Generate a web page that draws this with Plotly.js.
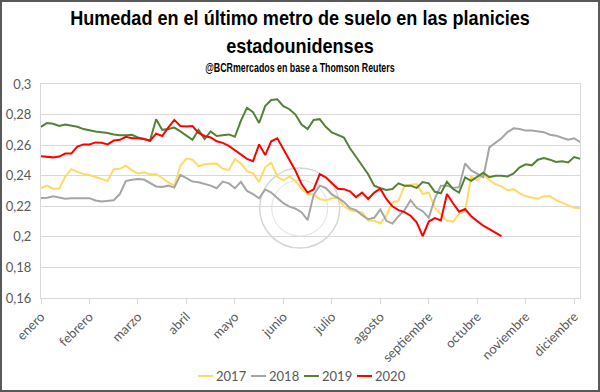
<!DOCTYPE html>
<html><head><meta charset="utf-8">
<script src="https://cdn.plot.ly/plotly-3.0.1.min.js"></script>
<style>
html,body{margin:0;padding:0;background:#fff;}
#wrap{width:600px;height:392px;box-sizing:border-box;border:2px solid #595959;background:#fff;overflow:hidden;}
#chart{width:596px;height:388px;}
</style></head><body>
<div id="wrap"><div id="chart"></div></div>
<script>
// Month labels and their positions (sample index, 8 samples per month)
const months = ["enero","febrero","marzo","abril","mayo","junio","julio","agosto","septiembre","octubre","noviembre","diciembre"];
const monthTickPos = [0,8,16,24,32,40,48,56,64,72,80,88];
const yTickVals = [0.16,0.18,0.2,0.22,0.24,0.26,0.28,0.3];
const yTickText = ["0,16","0,18","0,2","0,22","0,24","0,26","0,28","0,3"];
const years = ["2017","2018","2019","2020"];

const y2017 = [0.232,0.2335,0.2315,0.2315,0.2395,0.2443,0.2425,0.2412,0.2405,0.239,
  0.2375,0.2365,0.2443,0.2445,0.2465,0.2435,0.2415,0.2422,0.241,0.241,
  0.2385,0.2357,0.2335,0.2465,0.2512,0.2505,0.2462,0.2475,0.2478,0.248,
  0.2445,0.2438,0.251,0.248,0.243,0.2415,0.236,0.2455,0.2485,0.2395,
  0.237,0.2395,0.2365,0.2315,0.228,0.2275,0.2248,0.2238,0.2252,0.2255,
  0.22,0.2175,0.2165,0.216,0.2107,0.2105,0.2088,0.2139,0.2225,0.2235,
  0.2335,0.234,0.2345,0.228,0.229,0.219,0.2145,0.2105,0.21,0.2148,
  0.217,0.2395,0.237,0.241,0.237,0.2345,0.233,0.2305,0.2312,0.2285,
  0.2265,0.2255,0.225,0.2265,0.2265,0.224,0.2225,0.221,0.219,0.2188];

const y2018 = [0.2255,0.2256,0.2265,0.2255,0.225,0.2252,0.225,0.2252,0.2253,0.2238,
  0.2232,0.2238,0.224,0.228,0.2365,0.2374,0.2378,0.2375,0.2352,0.233,
  0.2327,0.2335,0.2322,0.2405,0.2385,0.2362,0.2357,0.2348,0.2335,0.2318,
  0.2362,0.235,0.2318,0.236,0.23,0.228,0.2252,0.231,0.229,0.2255,
  0.222,0.2198,0.2185,0.2161,0.211,0.2275,0.2335,0.232,0.2278,0.2255,
  0.2228,0.2188,0.2175,0.2142,0.2115,0.2125,0.218,0.2105,0.2087,0.2135,
  0.2175,0.224,0.219,0.2168,0.2125,0.225,0.2335,0.2335,0.232,0.2325,
  0.248,0.2435,0.2415,0.239,0.2585,0.2615,0.2645,0.2685,0.271,0.2705,
  0.2695,0.2695,0.2688,0.2685,0.2668,0.2662,0.2648,0.2635,0.2645,0.262];

const y2019 = [0.272,0.2745,0.274,0.2725,0.2735,0.2726,0.272,0.2705,0.2695,0.269,
  0.2685,0.268,0.267,0.2665,0.2665,0.2668,0.265,0.264,0.263,0.277,
  0.270,0.2705,0.2715,0.269,0.2665,0.2635,0.270,0.264,0.269,0.266,
  0.2665,0.267,0.2655,0.276,0.2845,0.2815,0.2745,0.2855,0.2895,0.29,
  0.2855,0.2835,0.280,0.2735,0.2705,0.2765,0.277,0.272,0.2683,0.2665,
  0.265,0.258,0.2522,0.247,0.241,0.2335,0.2318,0.2307,0.2313,0.235,
  0.2335,0.2335,0.232,0.2358,0.235,0.2295,0.2285,0.236,0.2313,0.229,
  0.2389,0.2367,0.2395,0.242,0.239,0.24,0.24,0.2395,0.2415,0.2455,
  0.2475,0.2468,0.2505,0.2515,0.2505,0.249,0.2495,0.2487,0.2522,0.251];

const y2020 = [0.2527,0.2525,0.252,0.2525,0.2545,0.2545,0.259,0.2605,0.2605,0.2618,
  0.2615,0.2605,0.263,0.2635,0.2655,0.2645,0.2645,0.264,0.2628,0.2675,
  0.266,0.2715,0.2765,0.2725,0.2722,0.2725,0.268,0.266,0.265,0.2625,
  0.2615,0.2595,0.2565,0.2535,0.251,0.2495,0.2605,0.2535,0.2625,0.2645,
  0.2574,0.2505,0.2432,0.2346,0.229,0.231,0.241,0.239,0.235,0.2315,
  0.2312,0.2298,0.226,0.229,0.2248,0.229,0.2315,0.2248,0.22,0.2175,
  0.2162,0.2138,0.2095,0.2005,0.21,0.2123,0.2107,0.228,0.222,0.2165,
  0.2182,0.2135,0.2103,0.2073,0.205,0.203,0.2005];

const seriesValues = [y2017, y2018, y2019, y2020];
const colors = ["#FFD966","#A5A5A5","#548235","#FF0000"];

const traces = seriesValues.map((vals, i) => ({
  type: "scatter",
  mode: "lines",
  name: years[i],
  x: vals.map((_, k) => k),
  y: vals,
  line: {color: colors[i], width: 2},
  hoverinfo: "skip"
}));

const axisGray = "#D9D9D9";
const textGray = "#595959";
const tickFont = {family: "Lato, 'Open Sans', sans-serif", size: 13, color: textGray};
const boldFont = "'Liberation Sans', Arial, sans-serif";

const layout = {
  width: 596, height: 388,
  margin: {l: 39, r: 18, t: 82, b: 92, pad: 0, autoexpand: false},
  paper_bgcolor: "#fff", plot_bgcolor: "#fff",
  showlegend: true,
  title: {
    text: "Humedad en el último metro de suelo en las planicies<br>estadounidenses",
    x: 0.5, xref: "container", xanchor: "center",
    y: 0.95, yref: "container", yanchor: "top",
    font: {family: boldFont, size: 21, color: "#000", weight: "bold"}
  },
  annotations: [{
    text: "@BCRmercados en base a Thomson Reuters",
    xref: "paper", yref: "paper", x: 0.4805, y: 1.077,
    xanchor: "center", yanchor: "middle", showarrow: false,
    font: {family: boldFont, size: 12, color: "#000", weight: "bold"}
  }],
  xaxis: {
    range: [0, 88.96],
    tickmode: "array", tickvals: monthTickPos, ticktext: months,
    tickangle: -45, tickfont: tickFont,
    ticks: "outside", ticklen: 5, tickcolor: axisGray, tickwidth: 1,
    showgrid: false, zeroline: false,
    showline: true, linecolor: axisGray, linewidth: 1, mirror: true,
    fixedrange: true
  },
  yaxis: {
    range: [0.16, 0.3],
    tickmode: "array", tickvals: yTickVals, ticktext: yTickText,
    tickfont: tickFont, ticks: "", ticklabelstandoff: 6,
    showgrid: true, gridcolor: axisGray, gridwidth: 1,
    zeroline: false, showline: true, linecolor: axisGray, linewidth: 1, mirror: true,
    fixedrange: true
  },
  legend: {
    orientation: "h", x: 0.2505, xanchor: "left",
    y: 0.036, yref: "container", yanchor: "middle",
    font: {family: "Lato, 'Open Sans', sans-serif", size: 13, color: textGray},
    itemwidth: 30, entrywidth: 8, entrywidthmode: "pixels",
    tracegroupgap: 0, bgcolor: "rgba(0,0,0,0)"
  },
  shapes: [
    {type: "circle", layer: "below", xref: "x", yref: "y", xsizemode: "pixel", ysizemode: "pixel",
     xanchor: 42.7, yanchor: 0.2188, x0: -40, x1: 40, y0: -40, y1: 40,
     line: {color: "#D6D6D6", width: 1.5}},
    {type: "circle", layer: "below", xref: "x", yref: "y", xsizemode: "pixel", ysizemode: "pixel",
     xanchor: 42.7, yanchor: 0.2188, x0: -28, x1: 28, y0: -28, y1: 28,
     line: {color: "#E0E0E0", width: 1}}
  ]
};

function squeeze(el, targetW, cx, cy) {
  const bb = el.getBBox();
  const s = targetW / bb.width;
  const ox = bb.x + bb.width / 2, oy = bb.y + bb.height / 2;
  const tx = (cx === null) ? ox : cx, ty = (cy === null) ? oy : cy;
  el.setAttribute("transform", `translate(${tx},${ty}) scale(${s},1) translate(${-ox},${-oy})`);
}

Plotly.newPlot("chart", traces, layout, {displayModeBar: false, staticPlot: true}).then(gd => {
  const t = gd.querySelector(".gtitle");
  if (t) squeeze(t, 460, 298, 29.5);
  const sub = gd.querySelector(".annotation-text");
  if (sub) squeeze(sub, 190, null, null);
  gd.querySelectorAll(".legend .legendlines path").forEach(p => p.setAttribute("d", "M22,0h15"));
  gd.querySelectorAll(".legend [clip-path]").forEach(e => e.removeAttribute("clip-path"));
});
</script>
</body></html>
